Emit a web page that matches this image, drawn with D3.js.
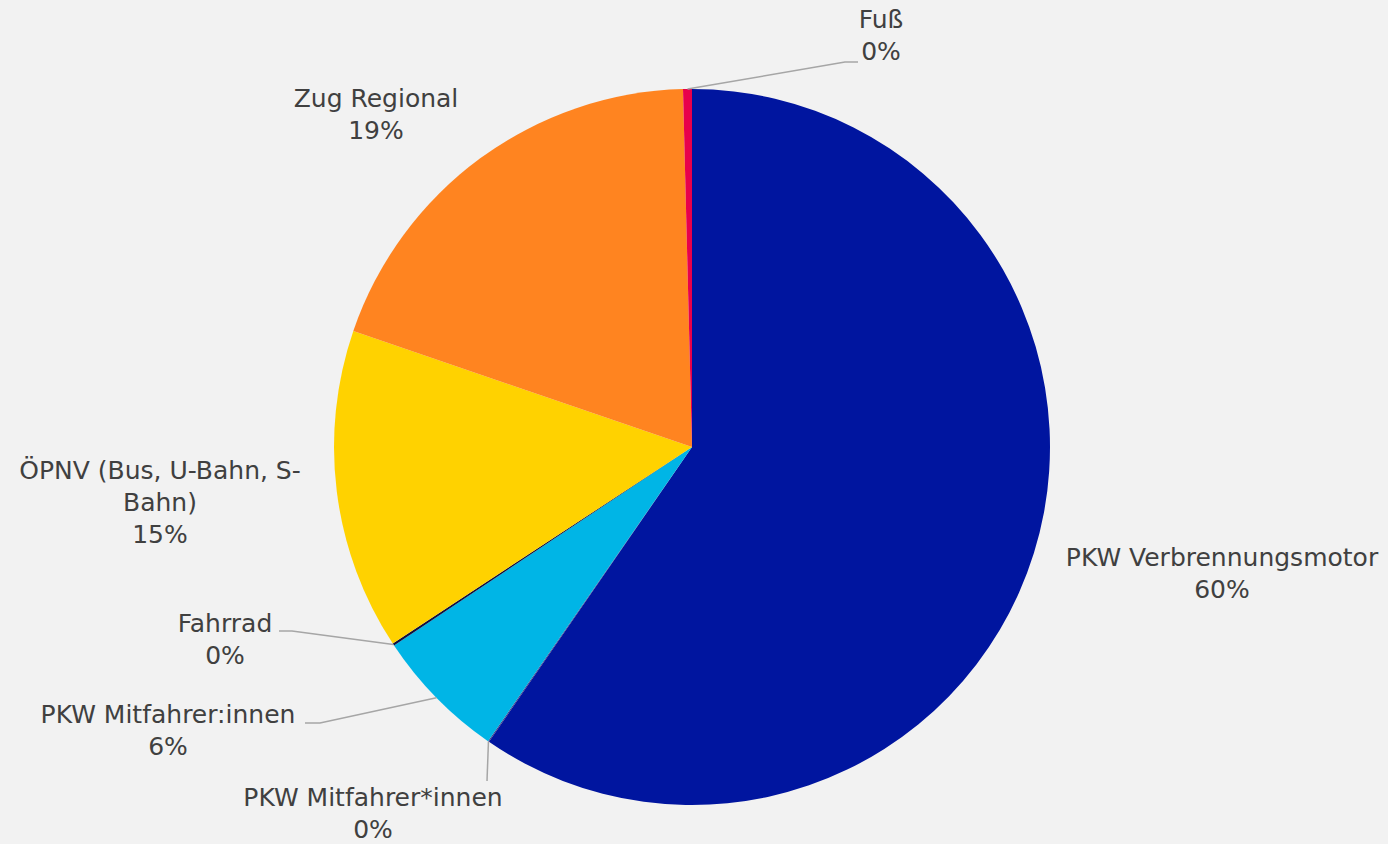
<!DOCTYPE html>
<html><head><meta charset="utf-8">
<script src="https://cdn.jsdelivr.net/npm/d3@7/dist/d3.min.js"></script>
<style>html,body{margin:0;padding:0;background:#f2f2f2;overflow:hidden}</style>
</head><body>
<svg id="chart" width="1388" height="844"></svg>
<script>
// ---- data ----
const categories = ["PKW Verbrennungsmotor","PKW Mitfahrer*innen","PKW Mitfahrer:innen","Fahrrad","ÖPNV (Bus, U-Bahn, S-Bahn)","Zug Regional","Fuß"];
const values = [59.6, 0.05, 6.0, 0.1, 14.5, 19.35, 0.4];
const percentLabels = ["60%","0%","6%","0%","15%","19%","0%"];
const colors = ["#00159f","#3a3a8a","#00b5e6","#101040","#ffd200","#ff8420","#e8004b"];

// ---- layout (not data) ----
const W = 1388, H = 844, cx = 692, cy = 447, R = 358;
const labelLayout = [
  {x:1222, y:566, lines:["PKW Verbrennungsmotor"]},
  {x:373, y:806, lines:["PKW Mitfahrer*innen"], end:[487,781], elbow:null},
  {x:168, y:723, lines:["PKW Mitfahrer:innen"], end:[305,723], elbow:[320,723]},
  {x:225, y:632, lines:["Fahrrad"], end:[279,631], elbow:[292,631]},
  {x:160, y:479, lines:["ÖPNV (Bus, U-Bahn, S-","Bahn)"]},
  {x:376, y:107, lines:["Zug Regional"]},
  {x:881, y:28, lines:["Fuß"], end:[858,62], elbow:[845,62]}
];
const lineH = 32;

const svg = d3.select("#chart");
svg.append("rect").attr("width",W).attr("height",H).attr("fill","#f2f2f2");

const data = categories.map((c,i)=>({name:c, value:values[i], pct:percentLabels[i], color:colors[i], layout:labelLayout[i]}));
const pie = d3.pie().value(d=>d.value).sort(null).startAngle(0).endAngle(2*Math.PI);
const arcs = pie(data);
const arc = d3.arc().innerRadius(0).outerRadius(R);

const g = svg.append("g").attr("transform",`translate(${cx},${cy})`);
g.selectAll("path.slice").data(arcs).enter().append("path")
  .attr("class","slice")
  .attr("d",arc)
  .attr("fill",d=>d.data.color);

// leader lines
const leaders = arcs.filter(d=>d.data.layout.end);
svg.selectAll("polyline.leader").data(leaders).enter().append("polyline")
  .attr("class","leader")
  .attr("fill","none")
  .attr("stroke","#a6a6a6")
  .attr("stroke-width",1.5)
  .attr("points",d=>{
    const a = (d.startAngle+d.endAngle)/2;
    const p0 = [cx + R*Math.sin(a), cy - R*Math.cos(a)];
    const pts = [p0];
    if (d.data.layout.elbow) pts.push(d.data.layout.elbow);
    pts.push(d.data.layout.end);
    return pts.map(p=>p.join(",")).join(" ");
  });

// labels
const lab = svg.selectAll("text.lbl").data(arcs).enter().append("text")
  .attr("class","lbl")
  .attr("text-anchor","middle")
  .attr("font-family","'DejaVu Sans', sans-serif")
  .attr("font-size",25)
  .attr("fill","#404040");
lab.each(function(d){
  const t = d3.select(this);
  const L = d.data.layout;
  const all = L.lines.concat([d.data.pct]);
  all.forEach((s,i)=>{
    t.append("tspan").attr("x",L.x).attr("y",L.y + i*lineH).text(s);
  });
});
</script>
</body></html>
